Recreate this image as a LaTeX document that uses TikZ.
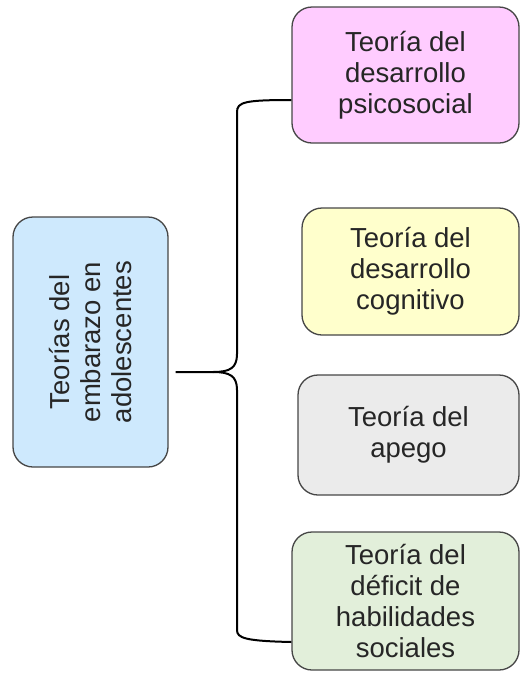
\documentclass[tikz,border=0pt]{standalone}
\usepackage{fontspec}
\setmainfont{Liberation Sans}
\usepackage{xcolor}
\usetikzlibrary{calc,shapes,positioning}
\definecolor{rootblue}{RGB}{206,233,253}
\definecolor{psicopink}{RGB}{255,204,255}
\definecolor{cognyellow}{RGB}{255,255,204}
\definecolor{apegogray}{RGB}{235,235,235}
\definecolor{habilgreen}{RGB}{226,239,218}
\definecolor{boxline}{RGB}{70,70,70}
\begin{document}
\begin{tikzpicture}[x=1pt,y=-1pt]

           \tikzstyle{every node}=[font=\fontsize{27.5}{31}\selectfont,text=black!85]
           \tikzstyle{theory}=[draw=boxline,line width=1.3pt,rounded corners=20pt,align=center,inner sep=0pt]
           \tikzstyle{brace}=[draw=black,line width=2pt]

    \useasboundingbox (0,0) rectangle (520,673);

    % rotated box: its south side is the right side
    \node[theory, fill=rootblue, rotate=90, minimum width=250pt, minimum height=155pt] (root) at (90.5,342) {Teorías del\\embarazo en\\adolescentes};

    \node[theory, fill=psicopink, minimum width=227pt, minimum height=136pt] (psico) at (405.5,75) {Teoría del\\desarrollo\\psicosocial};
    \node[theory, fill=cognyellow, minimum width=217pt, minimum height=127pt] (cogn) at (410.5,271.5) {Teoría del\\desarrollo\\cognitivo};
    \node[theory, fill=apegogray, minimum width=221pt, minimum height=120pt] (apego) at (408.5,435) {Teoría del\\apego};
    \node[theory, fill=habilgreen, minimum width=227pt, minimum height=138pt] (habil) at (405.5,601) {Teoría del\\déficit de\\habilidades\\sociales};

    \coordinate (tip) at (213,372);

    \path[brace] ([shift={(7,30)}]root.south) -- (tip)
        .. controls (230,372) and (237,368) .. (237,354) -- (237,112)
        .. controls (237,102) and (245,100) .. ([yshift=-25pt]psico.west);
    \path[brace] (tip)
        .. controls (230,372) and (237,376) .. (237,390) -- (237,630)
        .. controls (237,638) and (245,641) .. ([yshift=-41pt]habil.west);
 \end{tikzpicture}
\end{document}
